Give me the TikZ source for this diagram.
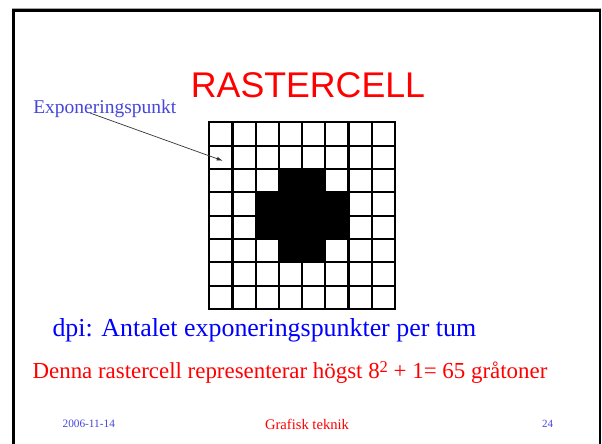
\documentclass[tikz,border=0pt]{standalone}
\usepackage{fontspec}
\setmainfont{Liberation Serif}
\newfontfamily\titlefont{Liberation Sans}
\usetikzlibrary{arrows.meta}
\definecolor{slidered}{RGB}{255,0,0}
\definecolor{slideblue}{RGB}{0,0,255}
\definecolor{softblue}{RGB}{70,70,220}
\newcommand{\fs}[1]{\fontsize{#1}{#1}\selectfont}
\begin{document}
\begin{tikzpicture}[x=1pt,y=-1pt,
  txt/.style={inner sep=0pt,outer sep=0pt,anchor=base west},
  gridline/.style={line width=2.2pt,line cap=rect},
  pointer/.style={draw=black!80,line width=0.7pt,-{Latex[length=6pt,width=4pt]}}]
  \useasboundingbox (0,0) rectangle (602,444);
  \fill[white] (0,0) rectangle (602,444);

  % slide frame
  \draw[gray!70,line width=1pt] (12,8.3) -- (601,8.3);
  \draw[black,line width=2.4pt] (12,10.6) -- (600.5,10.6);
  \draw[black,line width=3pt] (13.5,9.4) -- (13.5,444);
  \draw[black,line width=1.6pt] (600.2,9.4) -- (600.2,444);

  % title
  \node[inner sep=0pt,anchor=base,text=slidered] (title) at (308,97.7)
    {\titlefont\fs{35.7}RASTERCELL};

  % raster cell: 8x8 exposure points, cross-shaped black area
  \def\cw{23.21}\def\ch{23.34}
  \def\gx{209.3}\def\gy{122.3}
  \foreach \c/\r in {3/2,4/2,2/3,3/3,4/3,5/3,2/4,3/4,4/4,5/4,3/5,4/5}{
    \fill[black] (\gx+\c*\cw,\gy+\r*\ch) rectangle ++(\cw,\ch);
  }
  \foreach \i in {0,...,8}{
    \draw[gridline] (\gx+\i*\cw,\gy) -- (\gx+\i*\cw,\gy+8*\ch);
    \draw[gridline] (\gx,\gy+\i*\ch) -- (\gx+8*\cw,\gy+\i*\ch);
  }
  \coordinate (point) at (222.7,160.7);

  % label with pointer
  \node[txt,text=softblue] (label) at (33.3,113.3) {\fs{19.5}Exponeringspunkt};
  \coordinate (labelfoot) at (90,113);
  \draw[pointer] (labelfoot) -- (point);

  % body text
  \node[txt,text=slideblue] (dpi) at (52.5,336.7)
    {\fs{25.9}dpi: Antalet exponeringspunkter per tum};
  \node[txt,text=slidered] (gray) at (32.6,378)
    {\fs{22.9}Denna rastercell representerar högst 8\raisebox{0.26em}{\fs{16.5}2} + 1= 65 gråtoner};

  % footer
  \node[txt,text=softblue] (date) at (62.6,427.7) {\fs{11.3}2006-11-14};
  \node[inner sep=0pt,anchor=base,text=slidered] (course) at (307,429.3) {\fs{14.6}Grafisk teknik};
  \node[txt,text=softblue] (page) at (542,427.2) {\fs{11}24};
\end{tikzpicture}
\end{document}
